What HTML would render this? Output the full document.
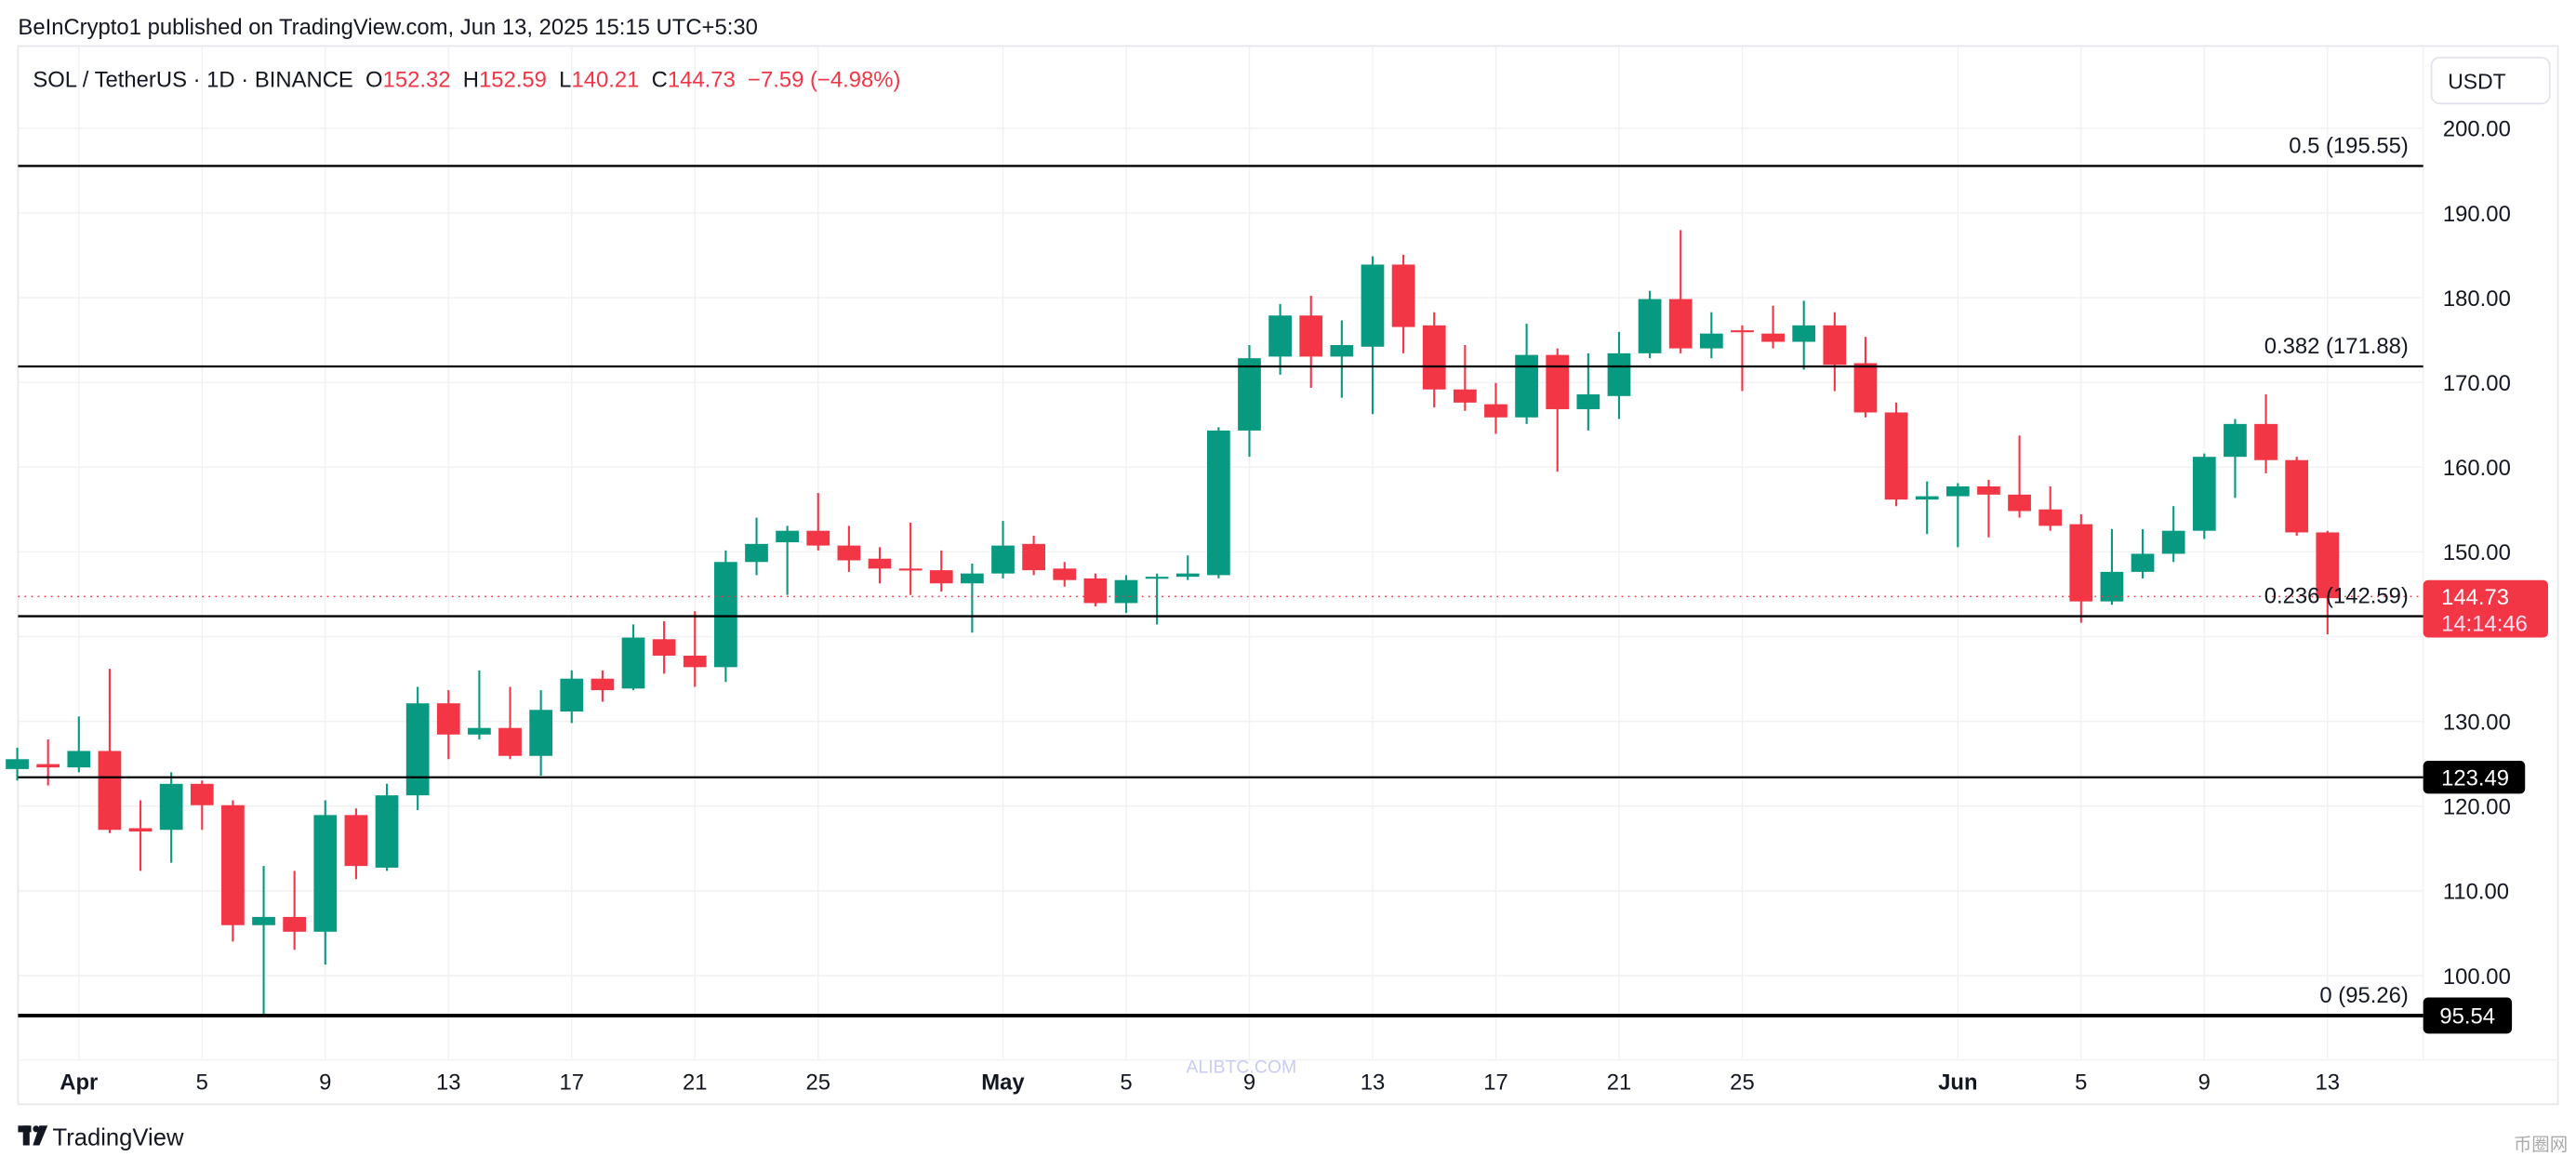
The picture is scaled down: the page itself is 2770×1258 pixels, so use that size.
<!DOCTYPE html>
<html><head><meta charset="utf-8"><style>
html,body{margin:0;padding:0;background:#fff;}
svg{display:block;}
text{font-family:"Liberation Sans",sans-serif;}
</style></head><body>
<svg id="c" width="2770" height="1258" viewBox="0 0 1568 712" preserveAspectRatio="none" xmlns="http://www.w3.org/2000/svg">
<rect width="1568" height="712" fill="#fff"/>
<g id="grid" stroke="#f0f1f3" stroke-width="0.8"></g>
<rect x="11" y="28" width="1546" height="644" fill="none" stroke="#e6e7ea" stroke-width="1"/>
<line x1="1475" y1="28" x2="1475" y2="645" stroke="#f0f1f3" stroke-width="0.8"/>
<line x1="11" y1="645" x2="1557" y2="645" stroke="#f0f1f3" stroke-width="0.8"/>
<text x="11" y="21" font-size="13.5" fill="#131722">BeInCrypto1 published on TradingView.com, Jun 13, 2025 15:15 UTC+5:30</text>
<text x="20" y="53" font-size="13.5" fill="#131722" style="white-space:pre" xml:space="preserve">SOL / TetherUS · 1D · BINANCE  O<tspan fill="#F23645">152.32</tspan>  H<tspan fill="#F23645">152.59</tspan>  L<tspan fill="#F23645">140.21</tspan>  C<tspan fill="#F23645">144.73  −7.59 (−4.98%)</tspan></text>
<rect x="1480" y="35" width="72" height="28" rx="5" fill="#fff" stroke="#e0e3eb"/>
<text x="1490" y="54" font-size="13" fill="#131722">USDT</text>
<g id="axis" font-size="13.5" fill="#131722"></g>
<g id="candles"></g>
<g stroke="#000">
<line x1="11" y1="101" x2="1475" y2="101" stroke-width="1.3"/>
<line x1="11" y1="223" x2="1475" y2="223" stroke-width="1.3"/>
<line x1="11" y1="375" x2="1475" y2="375" stroke-width="1.3"/>
<line x1="11" y1="473" x2="1475" y2="473" stroke-width="1.3"/>
<line x1="11" y1="618" x2="1475" y2="618" stroke-width="2.2"/>
</g>
<line x1="11" y1="363" x2="1475" y2="363" stroke="#F23645" stroke-width="0.8" stroke-dasharray="1,3"/>
<g font-size="13.5" fill="#131722" text-anchor="end">
<text x="1466" y="93">0.5 (195.55)</text>
<text x="1466" y="215">0.382 (171.88)</text>
<text x="1466" y="367">0.236 (142.59)</text>
<text x="1466" y="610">0 (95.26)</text>
</g>
<rect x="1475" y="353" width="76" height="35" rx="3" fill="#F23645"/>
<text x="1486" y="368" font-size="13.5" fill="#fff">144.73</text>
<text x="1486" y="384" font-size="13.5" fill="#fde">14:14:46</text>
<rect x="1475" y="463" width="62" height="20" rx="3" fill="#000"/>
<text x="1486" y="478" font-size="13.5" fill="#fff">123.49</text>
<rect x="1475" y="607" width="54" height="22" rx="3" fill="#000"/>
<text x="1485" y="623" font-size="13.5" fill="#fff">95.54</text>
<text x="722" y="653" font-size="11" fill="#c8ccf0">ALIBTC.COM</text>
<g transform="translate(11,685)" fill="#131722">
<rect x="0" y="0" width="8" height="4"/><rect x="3" y="0" width="4" height="12"/><circle cx="11" cy="2" r="2"/><polygon points="13,0 18,0 13,12 9,12"/>
</g>
<text x="32" y="697" font-size="14.5" fill="#131722">TradingView</text>
<text x="1530" y="700" font-size="11" fill="#aaa">币圈网</text>
</svg>
<script>
const NS="http://www.w3.org/2000/svg";
function el(p,t,a,txt){const e=document.createElementNS(NS,t);for(const k in a)e.setAttribute(k,a[k]);if(txt!=null)e.textContent=txt;document.getElementById(p).appendChild(e);}
const X=d=>48+d*18.75;
for(let p=100;p<=200;p+=10){const y=78+(200-p)*5.157;el("grid","line",{x1:11,x2:1475,y1:y,y2:y});
 if(p!=140)el("axis","text",{x:1487,y:y+5},p.toFixed(2));}
const dates=[[0,"Apr",1],[4,"5"],[8,"9"],[12,"13"],[16,"17"],[20,"21"],[24,"25"],[30,"May",1],[34,"5"],[38,"9"],[42,"13"],[46,"17"],[50,"21"],[54,"25"],[61,"Jun",1],[65,"5"],[69,"9"],[73,"13"]];
dates.forEach(([d,l,b])=>{const x=X(d);el("grid","line",{x1:x,x2:x,y1:28,y2:645});
 el("axis","text",{x:x,y:663,"text-anchor":"middle","font-weight":b?"bold":"normal"},l);});
const C=[[-2,462,468,455,475,1],[-1,465,467,450,478,0],[0,457,467,436,470,1],[1,457,505,407,507,0],[2,504,506,487,530,0],[3,477,505,470,525,1],[4,477,490,475,505,0],[5,490,563,487,573,0],[6,558,563,527,617,1],[7,558,567,530,578,0],[8,496,567,487,587,1],[9,496,527,492,535,0],[10,484,528,477,530,1],[11,428,484,418,493,1],[12,428,447,420,462,0],[13,443,447,408,450,1],[14,443,460,418,462,0],[15,432,460,420,472,1],[16,413,433,408,440,1],[17,413,420,408,427,0],[18,388,419,380,420,1],[19,389,399,378,410,0],[20,399,406,372,418,0],[21,342,406,335,415,1],[22,331,342,315,350,1],[23,323,330,320,362,1],[24,323,332,300,335,0],[25,332,341,320,348,0],[26,340,346,333,355,0],[27,346,347,318,362,0],[28,347,355,335,360,0],[29,349,355,343,385,1],[30,332,349,317,352,1],[31,331,347,326,350,0],[32,346,353,342,357,0],[33,352,367,349,369,0],[34,353,367,350,373,1],[35,351,352,349,380,1],[36,349,351,338,353,1],[37,262,350,260,352,1],[38,218,262,210,278,1],[39,192,217,185,228,1],[40,192,217,180,236,0],[41,210,217,195,242,1],[42,161,211,156,252,1],[43,161,199,155,215,0],[44,198,237,190,248,0],[45,237,245,210,250,0],[46,246,254,233,264,0],[47,216,254,197,258,1],[48,216,249,212,287,0],[49,240,249,215,262,1],[50,215,241,202,255,1],[51,182,215,177,218,1],[52,182,212,140,215,0],[53,203,212,190,218,1],[54,201,202,198,238,0],[55,203,208,186,212,0],[56,198,208,183,225,1],[57,198,222,190,238,0],[58,221,251,205,254,0],[59,251,304,245,308,0],[60,302,304,293,325,1],[61,296,302,294,333,1],[62,296,301,292,327,0],[63,301,311,265,315,0],[64,310,320,296,323,0],[65,319,366,313,379,0],[66,348,366,322,368,1],[67,337,348,322,352,1],[68,323,337,308,342,1],[69,278,323,276,328,1],[70,258,278,255,303,1],[71,258,280,240,288,0],[72,280,324,278,326,0],[73,324,364,323,386,0]];
C.forEach(([d,t,b,h,l,g])=>{const x=X(d),c=g?"#089981":"#F23645";
 el("candles","line",{x1:x,x2:x,y1:h,y2:l,stroke:c,"stroke-width":1.2});
 el("candles","rect",{x:x-7,y:t,width:14,height:Math.max(b-t,1.2),fill:c});});
</script>
</body></html>
